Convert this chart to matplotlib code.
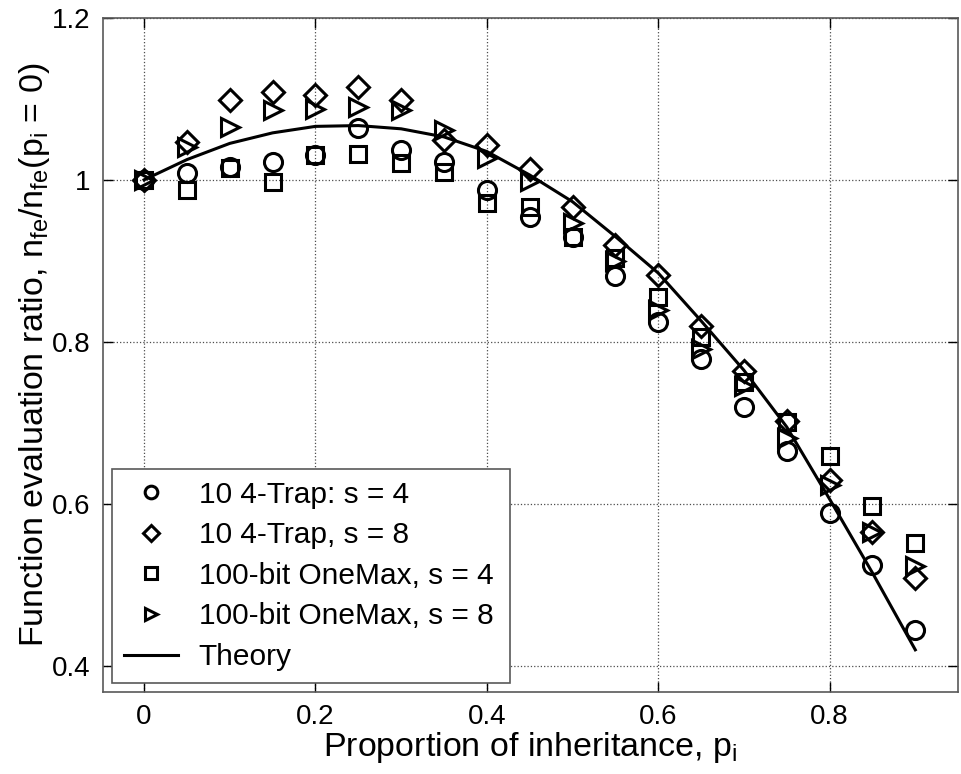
import matplotlib
matplotlib.use('Agg')
import matplotlib.pyplot as plt

plt.rcParams['font.family'] = ['Liberation Sans', 'DejaVu Sans']
plt.rcParams['mathtext.default'] = 'regular'

# proportion of inheritance
p = [0, 0.05, 0.1, 0.15, 0.2, 0.25, 0.3, 0.35, 0.4, 0.45,
     0.5, 0.55, 0.6, 0.65, 0.7, 0.75, 0.8, 0.85, 0.9]

trap_s4 = [1.0, 1.008, 1.016, 1.022, 1.031, 1.064, 1.037, 1.022, 0.987, 0.954,
           0.93, 0.881, 0.824, 0.779, 0.72, 0.665, 0.589, 0.525, 0.445]
trap_s8 = [1.0, 1.047, 1.099, 1.109, 1.105, 1.114, 1.099, 1.049, 1.043, 1.013,
           0.966, 0.92, 0.883, 0.82, 0.764, 0.703, 0.63, 0.566, 0.509]
onemax_s4 = [1.0, 0.988, 1.015, 0.997, 1.031, 1.032, 1.021, 1.01, 0.972, 0.967,
             0.93, 0.904, 0.855, 0.806, 0.751, 0.701, 0.659, 0.598, 0.552]
onemax_s8 = [1.0, 1.04, 1.065, 1.086, 1.088, 1.09, 1.086, 1.061, 1.027, 0.998,
             0.947, 0.9, 0.84, 0.791, 0.746, 0.681, 0.623, 0.565, 0.524]
theory = [1.0, 1.025, 1.045, 1.058, 1.066, 1.067, 1.063, 1.053, 1.035, 1.006,
          0.973, 0.93, 0.885, 0.826, 0.765, 0.695, 0.606, 0.515, 0.42]

fig = plt.figure(figsize=(9.62, 7.74), dpi=100)
ax = fig.add_axes([0.107, 0.106, 0.889, 0.871])

mk = dict(linestyle='none', markersize=13, markerfacecolor='none',
          markeredgecolor='black', markeredgewidth=2.2)
ax.plot(p, trap_s4, marker='o', label='10 4-Trap: s = 4', **mk)
ax.plot(p, trap_s8, marker='D', label='10 4-Trap, s = 8',
        **{**mk, 'markersize': 11})
ax.plot(p, onemax_s4, marker='s', label='100-bit OneMax, s = 4',
        **{**mk, 'markersize': 12})
ax.plot(p, onemax_s8, marker='>', label='100-bit OneMax, s = 8', **mk)
ax.plot(p, theory, color='black', linewidth=2.2, label='Theory')

ax.set_xlim(-0.048, 0.95)
ax.set_ylim(0.368, 1.2)
ax.set_xticks([0, 0.2, 0.4, 0.6, 0.8])
ax.set_xticklabels(['0', '0.2', '0.4', '0.6', '0.8'])
ax.set_yticks([0.4, 0.6, 0.8, 1.0, 1.2])
ax.set_yticklabels(['0.4', '0.6', '0.8', '1', '1.2'])
ax.tick_params(direction='in', top=True, right=True, labelsize=20,
               length=7, width=1, pad=9)
ax.grid(True, linestyle=':', color='0.3', linewidth=0.9)
for s in ax.spines.values():
    s.set_color('0.35')
    s.set_linewidth(1.2)

ax.set_xlabel('Proportion of inheritance, p$_i$', fontsize=24.5, labelpad=0)
ax.set_ylabel('Function evaluation ratio, n$_{fe}$/n$_{fe}$(p$_i$ = 0)',
              fontsize=24.5, labelpad=0)

leg = ax.legend(loc='lower left', bbox_to_anchor=(0.0105, 0.0134, 0.4655, 0.3),
                mode='expand', borderaxespad=0, fontsize=21.5, fancybox=False,
                edgecolor='0.35', framealpha=1, labelspacing=0.42,
                handlelength=1.8, markerscale=0.7, borderpad=0.4,
                handletextpad=0.7)
leg.get_frame().set_linewidth(1.2)

fig.savefig('out.png', dpi=100)
